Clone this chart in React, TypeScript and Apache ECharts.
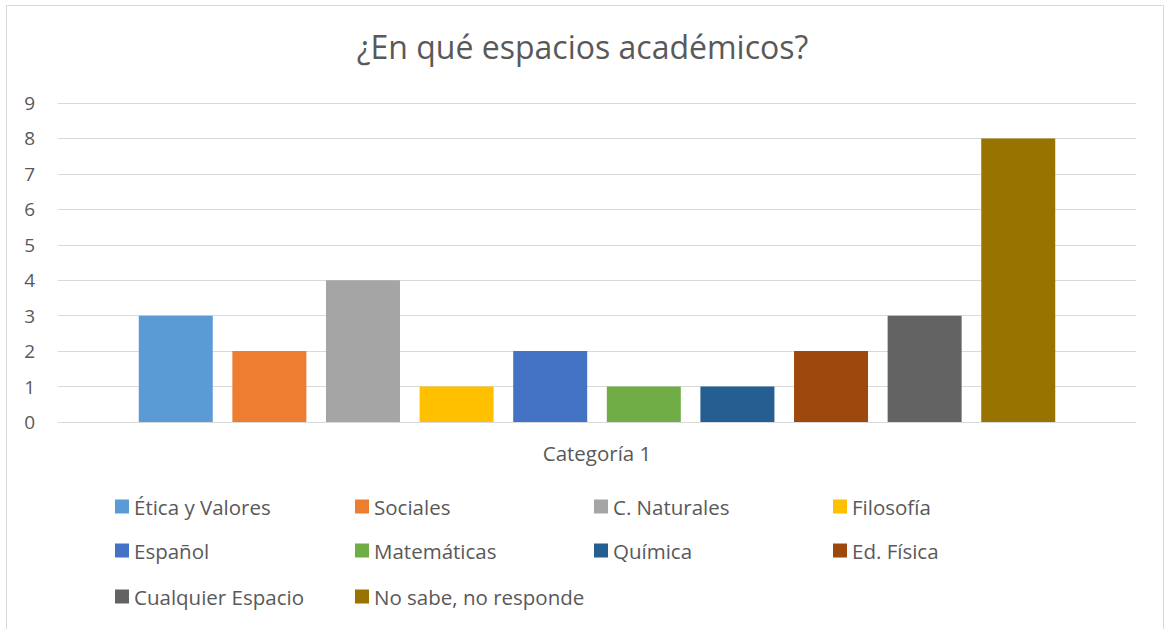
import React, { useEffect, useRef } from "react";
import * as echarts from "echarts";

const categories = ["Categoría 1"];
const seriesNames = [
  "Ética y Valores",
  "Sociales",
  "C. Naturales",
  "Filosofía",
  "Español",
  "Matemáticas",
  "Química",
  "Ed. Física",
  "Cualquier Espacio",
  "No sabe, no responde",
];
const seriesValues = [3, 2, 4, 1, 2, 1, 1, 2, 3, 8];
const seriesColors = [
  "#5B9BD5",
  "#ED7D31",
  "#A5A5A5",
  "#FFC000",
  "#4472C4",
  "#70AD47",
  "#255E91",
  "#9E480E",
  "#636363",
  "#997300",
];
const yTicks = { min: 0, max: 9, interval: 1 };
const titleText = "¿En qué espacios académicos?";

const FONT = "'Open Sans', sans-serif";
const TEXT = "#595959";
const GRIDC = "#d9d9d9";

const legendCols = [115, 355, 594, 833];
const legendRows = [496, 540, 586];

export default function App() {
  const ref = useRef<HTMLDivElement>(null);
  useEffect(() => {
    if (!ref.current) return;
    const chart = echarts.init(ref.current, undefined, { renderer: "svg" });
    const legends = seriesNames.map((name, i) => ({
      data: [name],
      left: legendCols[i % 4],
      top: legendRows[Math.floor(i / 4)],
      padding: 0,
      itemWidth: 14,
      itemHeight: 14,
      icon: "rect",
      selectedMode: false,
      textStyle: { fontSize: 20.5, color: TEXT, fontFamily: FONT, lineHeight: 20 },
    }));
    chart.setOption({
      animation: false,
      backgroundColor: "#ffffff",
      title: {
        text: titleText,
        left: "center",
        top: 30,
        padding: 0,
        textStyle: { fontSize: 32, fontWeight: "normal", color: TEXT, fontFamily: FONT },
      },
      graphic: [
        {
          type: "rect",
          shape: { x: 6.5, y: 5.5, width: 1157, height: 640 },
          style: { fill: "none", stroke: GRIDC, lineWidth: 1 },
        },
      ],
      legend: legends,
      grid: { left: 58, right: 29, top: 103, bottom: 207, containLabel: false },
      xAxis: {
        type: "category",
        data: categories,
        axisLine: { show: true, lineStyle: { color: GRIDC, width: 1 } },
        axisTick: { show: false },
        axisLabel: { fontSize: 20.5, color: TEXT, fontFamily: FONT, margin: 20 },
      },
      yAxis: {
        type: "value",
        min: yTicks.min,
        max: yTicks.max,
        interval: yTicks.interval,
        axisLine: { show: false },
        axisTick: { show: false },
        splitLine: { lineStyle: { color: GRIDC, width: 1 } },
        axisLabel: { fontSize: 19, color: TEXT, fontFamily: FONT, margin: 23 },
      },
      series: seriesNames.map((name, i) => ({
        name,
        type: "bar",
        data: [seriesValues[i]],
        barWidth: 74,
        barGap: "26.5%",
        itemStyle: { color: seriesColors[i] },
        emphasis: { disabled: true },
      })),
    });
    return () => chart.dispose();
  }, []);
  return (
    <div
      ref={ref}
      style={{ position: "fixed", left: 0, top: 0, width: 1165, height: 629 }}
    />
  );
}
